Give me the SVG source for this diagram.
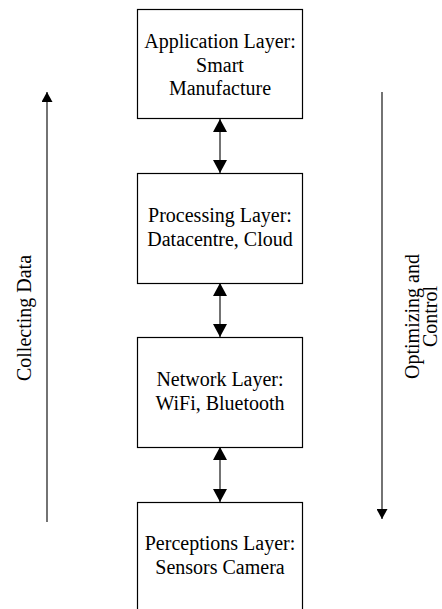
<svg xmlns="http://www.w3.org/2000/svg" width="442" height="609" viewBox="0 0 442 609">
<style>
.box{fill:#fff;stroke:#000;stroke-width:1.2}
.t{font-family:'Liberation Serif','DejaVu Serif',serif;font-size:20px;fill:#000;text-anchor:middle}
.c{stroke:#000;stroke-width:1.1;fill:none}
</style>
<defs>
<marker id="hb" markerUnits="userSpaceOnUse" markerWidth="13" markerHeight="14" refX="13" refY="7" orient="auto-start-reverse" viewBox="0 0 13 14">
<path d="M0,0 L13,7 L0,14 Z" fill="#000"/>
</marker>
<marker id="hs" markerUnits="userSpaceOnUse" markerWidth="10" markerHeight="11" refX="10" refY="5.5" orient="auto" viewBox="0 0 10 11">
<path d="M0,0 L10,5.5 L0,11 Z" fill="#000"/>
</marker>
</defs>
<rect width="442" height="609" fill="#fff"/>
<g id="connectors">
<line class="c" x1="220" y1="119" x2="220" y2="173" marker-start="url(#hb)" marker-end="url(#hb)"/>
<line class="c" x1="220" y1="283" x2="220" y2="337" marker-start="url(#hb)" marker-end="url(#hb)"/>
<line class="c" x1="220" y1="447" x2="220" y2="502" marker-start="url(#hb)" marker-end="url(#hb)"/>
<line class="c" x1="47" y1="522" x2="47" y2="92" marker-end="url(#hs)"/>
<line class="c" x1="382" y1="92" x2="382" y2="519" marker-end="url(#hs)"/>
</g>
<g font-family="Liberation Serif, DejaVu Serif, serif">
<g id="application">
<rect class="box" x="137.5" y="9.5" width="165" height="109"/>
<text class="t" x="220" y="48">Application Layer:</text>
<text class="t" x="220" y="71.5">Smart</text>
<text class="t" x="220" y="95">Manufacture</text>
</g>
<g id="processing">
<rect class="box" x="137.5" y="173.5" width="165" height="110"/>
<text class="t" x="220" y="222">Processing Layer:</text>
<text class="t" x="220" y="246">Datacentre, Cloud</text>
</g>
<g id="network">
<rect class="box" x="137.5" y="337.5" width="165" height="110"/>
<text class="t" x="220" y="386">Network Layer:</text>
<text class="t" x="220" y="410">WiFi, Bluetooth</text>
</g>
<g id="perception">
<rect class="box" x="137.5" y="502.5" width="165" height="112"/>
<text class="t" x="220" y="550">Perceptions Layer:</text>
<text class="t" x="220" y="573.5">Sensors Camera</text>
</g>
<g id="collecting">
<text class="t" transform="translate(30.5,318) rotate(-90)">Collecting Data</text>
</g>
<g id="optimizing">
<text class="t" transform="translate(419,316.5) rotate(-90)">Optimizing and</text>
<text class="t" transform="translate(436.5,316.5) rotate(-90)">Control</text>
</g>
</g>
</svg>
